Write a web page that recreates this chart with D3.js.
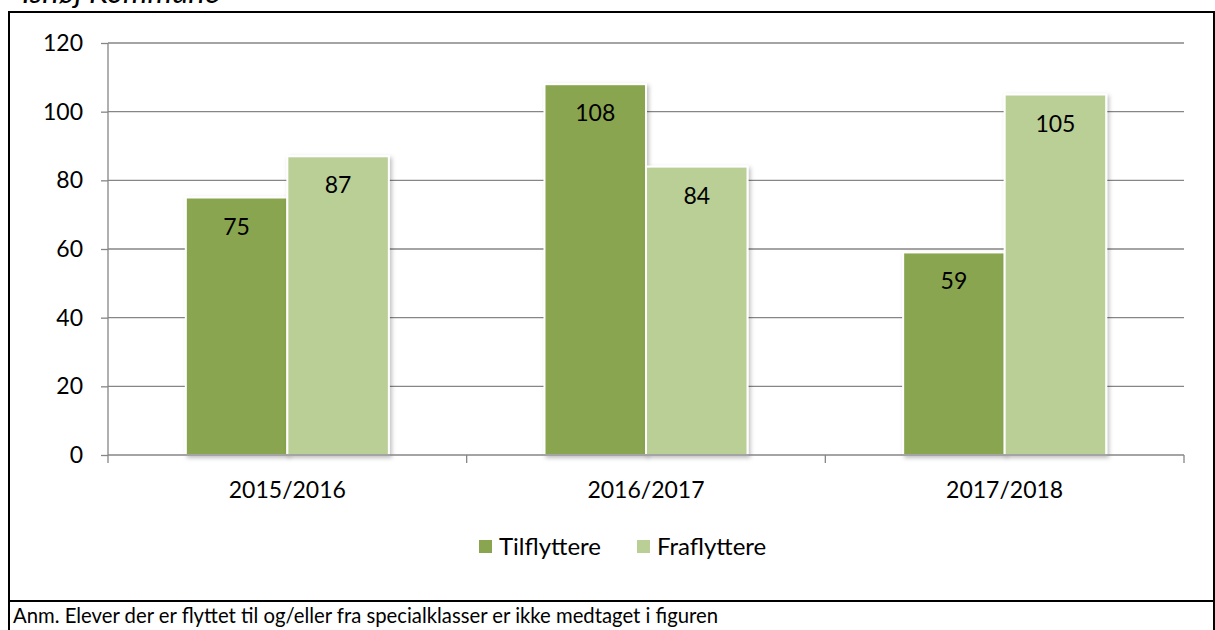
<!DOCTYPE html>
<html>
<head>
<meta charset="utf-8">
<script src="https://cdn.jsdelivr.net/npm/d3@7"></script>
<style>
  body { margin: 0; background: #fff; }
  text { font-family: Lato, "Open Sans", sans-serif; fill: #000; }
</style>
</head>
<body>
<script>
const w = 1215
const h = 630

const years = ['2015/2016', '2016/2017', '2017/2018']
const series = ['Tilflyttere', 'Fraflyttere']
const tilflyttere = [75, 108, 59]
const fraflyttere = [87, 84, 105]
const yTicks = [0, 20, 40, 60, 80, 100, 120]
const colors = ['#8aa54f', '#b9cf96']

const svg = d3.select('body').append('svg')
    .attr('width', w)
    .attr('height', h)

// soft shadow like the Excel bars
const defs = svg.append('defs')
defs.append('filter')
    .attr('id', 'shadow')
    .attr('x', '-10%').attr('y', '-10%')
    .attr('width', '130%').attr('height', '130%')
    .append('feDropShadow')
    .attr('dx', 2).attr('dy', 2)
    .attr('stdDeviation', 2)
    .attr('flood-color', '#000')
    .attr('flood-opacity', 0.25)

// frame
svg.append('path')
    .attr('d', 'M9,640 V12 H1214 V640')
    .attr('fill', 'none')
    .attr('stroke', '#000')
    .attr('stroke-width', 2)
svg.append('line')
    .attr('x1', 8).attr('x2', 1215)
    .attr('y1', 601).attr('y2', 601)
    .attr('stroke', '#000')
    .attr('stroke-width', 2)

// title, cut off at the top as in the source
svg.append('text')
    .attr('x', 22)
    .attr('y', 3)
    .style('font-style', 'italic')
    .style('font-size', '31px')
    .text('Ishøj Kommune')

svg.append('text')
    .attr('x', 13)
    .attr('y', 623)
    .style('font-size', '20.3px')
    .text('Anm. Elever der er flyttet til og/eller fra specialklasser er ikke medtaget i figuren')

const plotLeft = 108
const plotRight = 1184
const plotTop = 43
const plotBottom = 455

const y = d3.scaleLinear()
    .domain([0, 120])
    .range([plotBottom, plotTop])

const x0 = d3.scaleBand()
    .domain(years)
    .range([plotLeft, plotRight])
    .paddingInner(0.434)
    .paddingOuter(0.217)

const x1 = d3.scaleBand()
    .domain(series)
    .range([0, x0.bandwidth()])

// gridlines
svg.append('g')
    .selectAll('line')
    .data(yTicks.filter(d => d > 0))
    .enter()
    .append('line')
    .attr('x1', plotLeft).attr('x2', plotRight)
    .attr('y1', d => y(d)).attr('y2', d => y(d))
    .attr('stroke', '#868686')
    .attr('stroke-width', 1.3)

// y axis
const yAxis = svg.append('g')
    .attr('transform', `translate(${plotLeft},0)`)
    .call(d3.axisLeft(y).tickValues(yTicks).tickSize(7).tickPadding(18))
yAxis.select('.domain')
    .attr('d', `M0,${plotTop}V${plotBottom + 8}`)
yAxis.selectAll('path, line')
    .attr('stroke', '#868686')
    .attr('stroke-width', 1.3)
yAxis.selectAll('text')
    .style('font-family', 'Lato, sans-serif')
    .style('font-size', '23px')
    .attr('fill', '#000')

// bars
const data = years.map((yr, i) => ({ year: yr, values: [tilflyttere[i], fraflyttere[i]] }))

const groups = svg.append('g')
    .selectAll('g')
    .data(data)
    .enter()
    .append('g')
    .attr('transform', d => `translate(${x0(d.year)},0)`)

groups.selectAll('rect')
    .data(d => d.values.map((v, j) => ({ key: series[j], value: v, j: j })))
    .enter()
    .append('rect')
    .attr('x', d => x1(d.key))
    .attr('y', d => y(d.value))
    .attr('width', x1.bandwidth())
    .attr('height', d => plotBottom - y(d.value))
    .attr('fill', d => colors[d.j])
    .attr('stroke', '#fff')
    .attr('stroke-width', 2)
    .attr('filter', 'url(#shadow)')

groups.selectAll('text')
    .data(d => d.values.map((v, j) => ({ key: series[j], value: v })))
    .enter()
    .append('text')
    .attr('x', d => x1(d.key) + x1.bandwidth() / 2)
    .attr('y', d => y(d.value) + 37)
    .attr('text-anchor', 'middle')
    .style('font-size', '23px')
    .text(d => d.value)

// x axis
svg.append('line')
    .attr('x1', plotLeft).attr('x2', plotRight)
    .attr('y1', plotBottom).attr('y2', plotBottom)
    .attr('stroke', '#868686')
    .attr('stroke-width', 1.3)

const bounds = years.map(d => x0(d) - x0.step() * x0.paddingInner() / 2).concat([plotRight])
svg.append('g')
    .selectAll('line')
    .data(bounds.slice(1))
    .enter()
    .append('line')
    .attr('x1', d => d).attr('x2', d => d)
    .attr('y1', plotBottom).attr('y2', plotBottom + 8)
    .attr('stroke', '#868686')
    .attr('stroke-width', 1.3)

svg.append('g')
    .selectAll('text')
    .data(years)
    .enter()
    .append('text')
    .attr('x', d => x0(d) + x0.bandwidth() / 2)
    .attr('y', 498)
    .attr('text-anchor', 'middle')
    .style('font-size', '23px')
    .text(d => d)

// legend
const legendX = [479, 637]
const legend = svg.append('g')
    .selectAll('g')
    .data(series)
    .enter()
    .append('g')
    .attr('transform', (d, i) => `translate(${legendX[i]},540)`)
legend.append('rect')
    .attr('width', 13).attr('height', 13)
    .attr('fill', (d, i) => colors[i])
legend.append('text')
    .attr('x', 20)
    .attr('y', 15)
    .style('font-size', '24px')
    .text(d => d)
</script>
</body>
</html>
